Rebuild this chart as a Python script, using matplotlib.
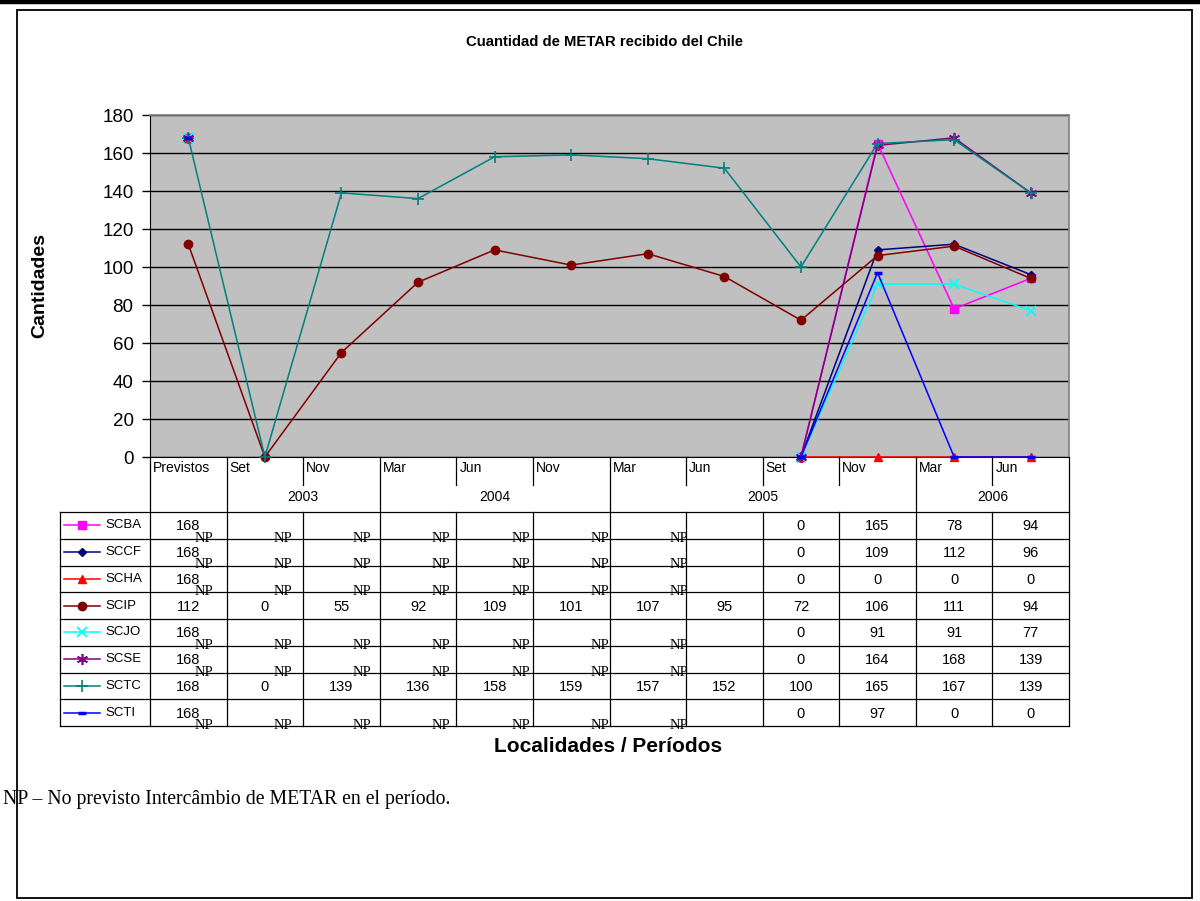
import numpy as np
import matplotlib
matplotlib.use("Agg")
import matplotlib.pyplot as plt
from matplotlib.lines import Line2D
from matplotlib.patches import Rectangle

NP = np.nan
categories = ["Previstos", "Set", "Nov", "Mar", "Jun", "Nov", "Mar", "Jun", "Set", "Nov", "Mar", "Jun"]
years = [("2003", 1, 2), ("2004", 3, 5), ("2005", 6, 9), ("2006", 10, 11)]

series_names = ["SCBA", "SCCF", "SCHA", "SCIP", "SCJO", "SCSE", "SCTC", "SCTI"]
SCBA = [168, NP, NP, NP, NP, NP, NP, NP, 0, 165, 78, 94]
SCCF = [168, NP, NP, NP, NP, NP, NP, NP, 0, 109, 112, 96]
SCHA = [168, NP, NP, NP, NP, NP, NP, NP, 0, 0, 0, 0]
SCIP = [112, 0, 55, 92, 109, 101, 107, 95, 72, 106, 111, 94]
SCJO = [168, NP, NP, NP, NP, NP, NP, NP, 0, 91, 91, 77]
SCSE = [168, NP, NP, NP, NP, NP, NP, NP, 0, 164, 168, 139]
SCTC = [168, 0, 139, 136, 158, 159, 157, 152, 100, 165, 167, 139]
SCTI = [168, NP, NP, NP, NP, NP, NP, NP, 0, 97, 0, 0]
series_values = [SCBA, SCCF, SCHA, SCIP, SCJO, SCSE, SCTC, SCTI]

styles = {
    "SCBA": dict(color="#FF00FF", marker="s", ms=5.5, mew=1),
    "SCCF": dict(color="#000080", marker="D", ms=4.5, mew=1),
    "SCHA": dict(color="#FF0000", marker="^", ms=6, mew=1),
    "SCIP": dict(color="#800000", marker="o", ms=6, mew=1),
    "SCJO": dict(color="#00FFFF", marker="x", ms=7, mew=1.3),
    "SCSE": dict(color="#800080", marker=(6, 2, 0), ms=8, mew=1.2),
    "SCTC": dict(color="#008080", marker="+", ms=8, mew=1.2),
    "SCTI": dict(color="#0000FF", marker="_", ms=6, mew=2.5),
}

SANS = "Liberation Sans"
SERIF = "Liberation Serif"

W, H = 1200, 901
fig = plt.figure(figsize=(12, 9.01), dpi=100)

def fx(px):
    return px / W

def fy(py):
    return 1 - py / H

# page decorations
fig.add_artist(Line2D([0, 1], [fy(2), fy(2)], color="black", lw=3.2, transform=fig.transFigure))
fig.add_artist(Rectangle((fx(17), fy(898)), fx(1192) - fx(17), fy(10) - fy(898),
                         fill=False, ec="black", lw=1.3, transform=fig.transFigure))

# main plot
L, R, T, B = 150, 1069, 115, 457
ax = fig.add_axes([fx(L), fy(B), fx(R) - fx(L), fy(T) - fy(B)])
ax.set_facecolor("#C0C0C0")
ax.set_xlim(-0.5, len(categories) - 0.5)
ax.set_ylim(0, 180)
ax.set_yticks(range(0, 181, 20))
ax.set_xticks([])
ax.yaxis.grid(True, color="black", lw=1)
ax.set_axisbelow(True)
for s in ["top", "right"]:
    ax.spines[s].set_color("#808080")
    ax.spines[s].set_linewidth(1.2)
ax.spines["left"].set_color("black")
ax.spines["bottom"].set_color("black")
ax.tick_params(axis="y", direction="out", length=5.8, width=1, pad=6, labelsize=13.5)
for lbl in ax.get_yticklabels():
    lbl.set_fontfamily(SANS)

x = np.arange(len(categories))
for name, vals in zip(series_names, series_values):
    st = styles[name]
    ax.plot(x, vals, color=st["color"], lw=1.1, marker=st["marker"], ms=st["ms"],
            mew=st["mew"], mfc=st["color"], mec=st["color"], clip_on=False, zorder=3)

fig.text(fx(605), fy(42), "Cuantidad de METAR recibido del Chile", ha="center", va="center",
         fontsize=10.7, fontweight="bold", family=SANS)
fig.text(fx(40), fy(286), "Cantidades", ha="center", va="center", rotation=90,
         fontsize=14, fontweight="bold", family=SANS)
fig.text(fx(608), fy(746), "Localidades / Períodos", ha="center", va="center",
         fontsize=15, fontweight="bold", family=SANS)
fig.text(fx(3), fy(804), "NP \u2013 No previsto Intercâmbio de METAR en el período.",
         ha="left", va="baseline", fontsize=14.2, family=SERIF)

# data table (y in pixel offsets below the plot)
TB = 726
tab = fig.add_axes([fx(L), fy(TB), fx(R) - fx(L), fy(B) - fy(TB)])
tab.set_xlim(-0.5, len(categories) - 0.5)
tab.set_ylim(TB - B, 0)
tab.axis("off")
colw = (R - L) / len(categories)
xleft = -0.5 - 90 / colw
h1, h2 = 28, 55
nrow = len(series_names)
rh = (TB - B - h2) / nrow
lw_t = 0.9
kw = dict(color="black", lw=lw_t, clip_on=False)

# header vertical lines
year_bounds = {0.5}
for _, a, b in years:
    year_bounds.add(a - 0.5)
    year_bounds.add(b + 0.5)
for i in range(len(categories) + 1):
    xb = i - 0.5
    if xb in year_bounds or i == 0:
        tab.plot([xb, xb], [0, TB - B], **kw)
    else:
        tab.plot([xb, xb], [0, h1], **kw)
        tab.plot([xb, xb], [h2, TB - B], **kw)
# horizontal table lines
for k in range(nrow + 1):
    y = h2 + k * rh
    tab.plot([xleft, len(categories) - 0.5], [y, y], **kw)
tab.plot([xleft, xleft], [h2, TB - B], **kw)

# header text
for i, c in enumerate(categories):
    tab.text(i - 0.5 + 3 / colw, 11, c, ha="left", va="center", fontsize=10, family=SANS)
for yname, a, b in years:
    tab.text((a + b) / 2, 40, yname, ha="center", va="center", fontsize=10, family=SANS)

# rows
for k, (name, vals) in enumerate(zip(series_names, series_values)):
    st = styles[name]
    yc = h2 + (k + 0.5) * rh
    ybot = h2 + (k + 1) * rh
    lx0 = (64 - L) / colw - 0.5
    lx1 = (100 - L) / colw - 0.5
    tab.plot([lx0, lx1], [yc, yc], color=st["color"], lw=1.1, clip_on=False)
    tab.plot([(lx0 + lx1) / 2], [yc], color=st["color"], marker=st["marker"], ms=st["ms"],
             mew=st["mew"], mfc=st["color"], mec=st["color"], clip_on=False)
    tab.text((105 - L) / colw - 0.5, yc, name, ha="left", va="center", fontsize=9.5, family=SANS)
    np_i = 0
    for i, v in enumerate(vals):
        if np.isnan(v):
            tab.text(i - 1 + 0.2 + 0.035 * np_i, ybot + 3, "NP", ha="center", va="baseline",
                     fontsize=10.5, family=SERIF)
            np_i += 1
        else:
            tab.text(i, yc + 1, f"{int(v)}", ha="center", va="center", fontsize=10.5, family=SANS)

fig.savefig("out.png", dpi=100)
